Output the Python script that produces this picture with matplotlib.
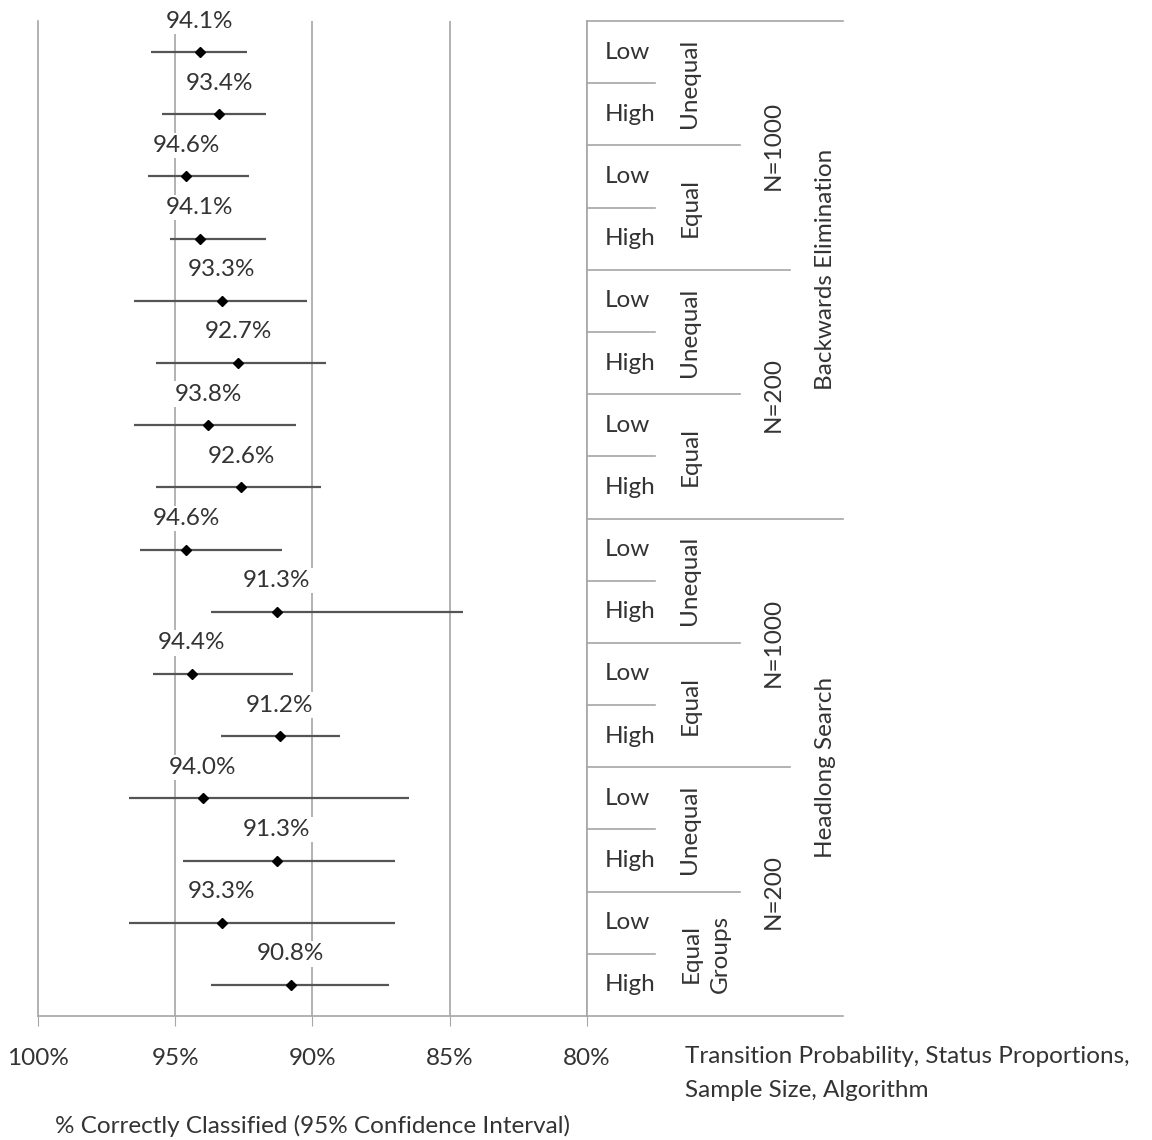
import numpy as np
import matplotlib
matplotlib.use("Agg")
import matplotlib.pyplot as plt

plt.rcParams['font.family'] = ['Lato', 'DejaVu Sans']

# classification accuracy and 95% CI bounds, one entry per condition (top to bottom)
accuracy = [94.1, 93.4, 94.6, 94.1, 93.3, 92.7, 93.8, 92.6,
            94.6, 91.3, 94.4, 91.2, 94.0, 91.3, 93.3, 90.8]
ci_upper = [95.9, 95.5, 96.0, 95.2, 96.5, 95.7, 96.5, 95.7,
            96.3, 93.7, 95.8, 93.35, 96.7, 94.7, 96.7, 93.7]
ci_lower = [92.4, 91.7, 92.3, 91.7, 90.2, 89.5, 90.6, 89.7,
            91.1, 84.5, 90.7, 89.0, 86.5, 87.0, 87.0, 87.2]

transition = ['Low', 'High'] * 8
status = ['Unequal', 'Equal', 'Unequal', 'Equal',
          'Unequal', 'Equal', 'Unequal', 'Equal\nGroups']
sample_size = ['N=1000', 'N=200', 'N=1000', 'N=200']
algorithm = ['Backwards Elimination', 'Headlong Search']

xticks = [100, 95, 90, 85, 80]
xticklabels = ['100%', '95%', '90%', '85%', '80%']

W, H = 1152, 1140
grid_col = '#a6a6a6'
text_col = '#333333'
fs = 17.5

fig = plt.figure(figsize=(W / 100, H / 100), dpi=100)
bottom = 1 - 1016 / H
height = (1016 - 21) / H
ax = fig.add_axes([38 / W, bottom, (587 - 38) / W, height])
tab = fig.add_axes([587 / W, bottom, (843 - 587) / W, height])

n = len(accuracy)
acc = np.array(accuracy)
rows = np.arange(n) + 0.5

# vertical reference lines
for v in [95, 90, 85]:
    ax.axvline(v, color=grid_col, lw=1.2, zorder=0)

err = [acc - np.array(ci_lower), np.array(ci_upper) - acc]
ax.errorbar(acc, rows, xerr=err, fmt='D', color='black', ms=5.5,
            ecolor='#555555', elinewidth=1.6, capsize=0, zorder=2)

for i, a in enumerate(accuracy):
    ax.text(a, i, f"{a:.1f}%", ha='center', va='center', fontsize=fs,
            color=text_col, zorder=3,
            bbox=dict(facecolor='white', edgecolor='none', pad=1.5))

ax.set_xlim(100, 80)
ax.set_ylim(n, 0)
ax.set_yticks([])
ax.set_xticks(xticks)
ax.set_xticklabels(xticklabels, fontsize=fs, color=text_col)
ax.tick_params(axis='x', direction='out', length=7, color=grid_col, pad=16)
ax.spines['top'].set_visible(False)
for s in ['left', 'right', 'bottom']:
    ax.spines[s].set_color(grid_col)
    ax.spines[s].set_linewidth(1.2)
ax.set_xlabel('% Correctly Classified (95% Confidence Interval)',
              fontsize=fs, color=text_col, labelpad=33)

# category table on the right
tab.set_xlim(0, 256)
tab.set_ylim(n, 0)
tab.set_xticks([])
tab.set_yticks([])
tab.spines['right'].set_visible(False)
for s in ['left', 'top', 'bottom']:
    tab.spines[s].set_color(grid_col)
    tab.spines[s].set_linewidth(1.2)

for b in range(1, n):
    if b % 8 == 0:
        x_end = 256
    elif b % 4 == 0:
        x_end = 203
    elif b % 2 == 0:
        x_end = 153
    else:
        x_end = 68
    tab.plot([0, x_end], [b, b], color=grid_col, lw=1.2, clip_on=False)

for i, t in enumerate(transition):
    tab.text(18, i + 0.5, t, ha='left', va='center', fontsize=fs, color=text_col)

for i, s in enumerate(status):
    x = 119 if '\n' in s else 103
    tab.text(x, 2 * i + 1, s, ha='center', va='center', rotation=90,
             fontsize=fs, color=text_col, linespacing=1.45)

for i, s in enumerate(sample_size):
    tab.text(186, 4 * i + 2, s, ha='center', va='center', rotation=90,
             fontsize=fs, color=text_col)

for i, s in enumerate(algorithm):
    tab.text(239, 8 * i + 4, s, ha='center', va='center', rotation=90,
             fontsize=fs, color=text_col)

fig.text(685 / W, 1 - 1046 / H,
         'Transition Probability, Status Proportions,\nSample Size, Algorithm',
         ha='left', va='top', fontsize=fs, color=text_col, linespacing=1.75)

fig.savefig('out.png', dpi=100, facecolor='white')
